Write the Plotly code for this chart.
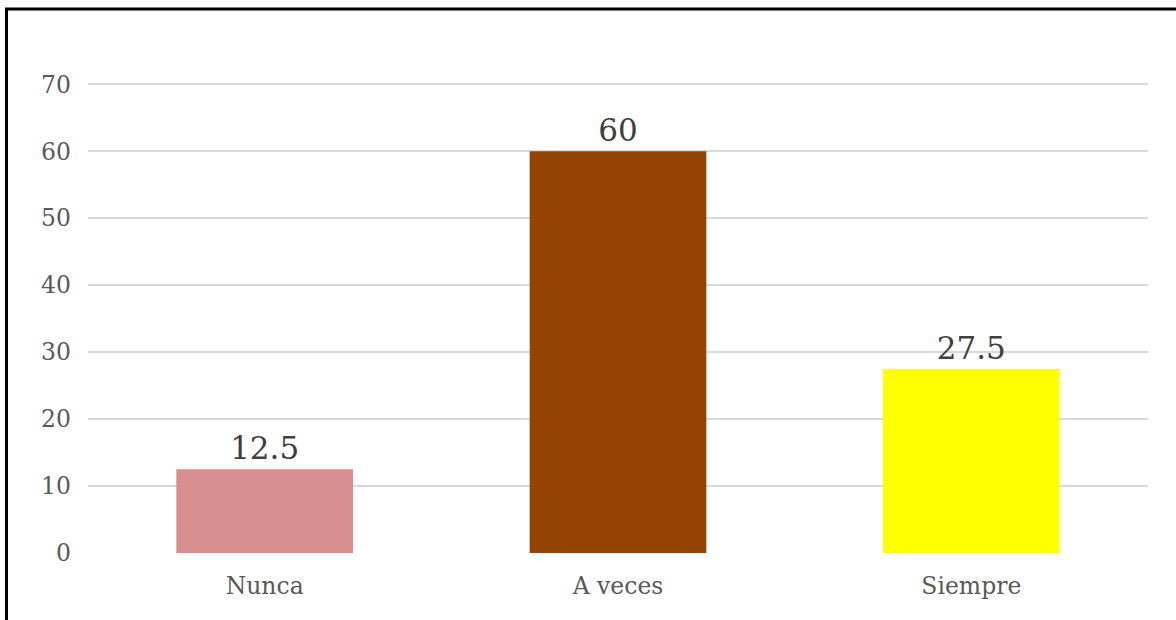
import plotly.graph_objects as go

categories = ["Nunca", "A veces", "Siempre"]
values = [12.5, 60, 27.5]
bar_colors = ["#D68E8E", "#954405", "#FFFF00"]
y_ticks = [0, 10, 20, 30, 40, 50, 60, 70]
y_max = 70.5

W, H = 1176, 620
plot_bottom, top_tick_px = 553, 84
px_per_unit = (plot_bottom - top_tick_px) / 70
ml, mr, mb = 88, 28, H - plot_bottom
mt = plot_bottom - px_per_unit * y_max
pw, ph = W - ml - mr, H - mt - mb

fig = go.Figure(go.Bar(
    x=categories, y=values,
    marker=dict(color=bar_colors, line=dict(width=0)),
    text=[f"{v:g}" for v in values],
    textposition="outside",
    cliponaxis=False,
    textfont=dict(family="DejaVu Serif", size=31, color="#404040"),
))

fig.update_layout(
    width=W, height=H,
    margin=dict(l=ml, r=mr, t=mt, b=mb, pad=0),
    paper_bgcolor="white", plot_bgcolor="white",
    bargap=0.5,
    showlegend=False,
    font=dict(family="DejaVu Serif", color="#595959"),
    xaxis=dict(
        showgrid=False, zeroline=False,
        showline=True, linecolor="white", linewidth=3,
        ticks="", tickfont=dict(size=23.5, color="#595959"),
        ticklabelstandoff=10,
    ),
    yaxis=dict(
        range=[0, y_max], tickvals=y_ticks,
        showgrid=True, gridcolor="#D9D9D9", gridwidth=2,
        zeroline=False, showline=False, ticks="",
        tickfont=dict(size=23.5, color="#595959"),
        ticklabelstandoff=16,
    ),
)

# outer frame (left and top edges visible in the reference)
fig.add_shape(
    type="rect", xref="paper", yref="paper",
    x0=(6.5 - ml) / pw, x1=1.2,
    y0=-0.5, y1=(plot_bottom - 8.5) / ph,
    line=dict(color="black", width=3), fillcolor="rgba(0,0,0,0)",
    layer="above",
)

fig.write_html(
    "out.html",
    config={"displayModeBar": False},
    post_script="document.body.style.margin='0';document.body.style.overflow='hidden';",
)
